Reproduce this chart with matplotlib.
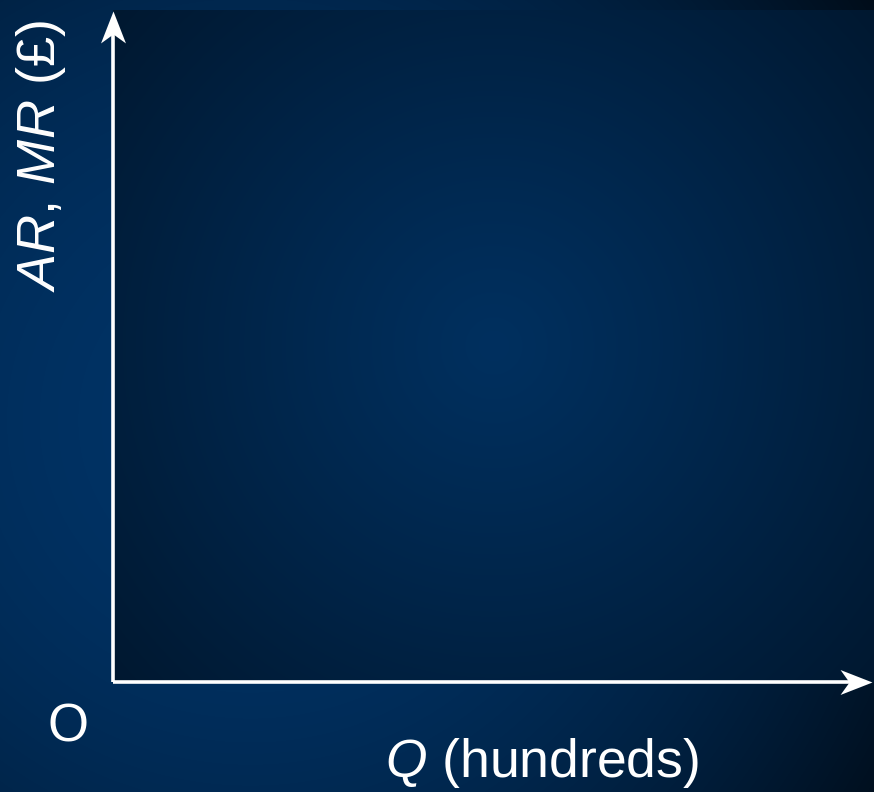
import matplotlib.pyplot as plt
import numpy as np
from matplotlib.path import Path

# chart content (an empty AR/MR diagram)
x_label = "$\\mathit{Q}$ (hundreds)"
y_label = "$\\mathit{AR}$, $\\mathit{MR}$ (£)"
origin_label = "O"

plt.rcParams['font.family'] = ['Liberation Sans', 'DejaVu Sans']
plt.rcParams['mathtext.fontset'] = 'custom'
plt.rcParams['mathtext.rm'] = 'Liberation Sans'
plt.rcParams['mathtext.it'] = 'Liberation Sans:italic'

W, H = 874, 792
fig = plt.figure(figsize=(W / 100, H / 100), dpi=100)

# outer background: radial gradient, bright toward the left middle
bg = fig.add_axes([0, 0, 1, 1])
yy, xx = np.mgrid[0:H, 0:W]
d = np.hypot(xx - 250, yy - 420) / 760.0
f = np.clip(d, 0, 1) ** 2
c0 = np.array([0, 51, 102]) / 255.0
c1 = np.array([0, 12, 24]) / 255.0
img = c0[None, None, :] * (1 - f[..., None]) + c1[None, None, :] * f[..., None]
bg.imshow(img, extent=[0, W, H, 0], aspect='auto')
bg.set_xlim(0, W)
bg.set_ylim(H, 0)
bg.axis('off')

# inner panel
left, right, top, bottom = 113, 874, 10, 682
ax = fig.add_axes([left / W, (H - bottom) / H, (right - left) / W, (bottom - top) / H])
pw, ph = right - left, bottom - top
py, px = np.mgrid[0:ph, 0:pw]
r = np.hypot(px - pw / 2, py - ph / 2) / np.hypot(pw / 2, ph / 2)
g = np.clip(r, 0, 1) ** 1.1
i0 = np.array([0, 48, 95]) / 255.0
i1 = np.array([0, 24, 48]) / 255.0
pimg = i0[None, None, :] * (1 - g[..., None]) + i1[None, None, :] * g[..., None]
ax.imshow(pimg, extent=[0, 1, 0, 1], aspect='auto')
ax.set_xlim(0, 1)
ax.set_ylim(0, 1)
ax.axis('off')

# axis lines with stealth-style heads
xtip = 1 - 2 / pw
ytip = 1 - 1 / ph
ax.plot([0, xtip - 20 / pw], [0, 0], color='white', lw=2.6, clip_on=False,
        solid_capstyle='butt', transform=ax.transAxes)
ax.plot([0, 0], [0, ytip - 20 / ph], color='white', lw=2.6, clip_on=False,
        solid_capstyle='butt', transform=ax.transAxes)
head_r = Path([(0, 0), (-32, 12.5), (-23, 0), (-32, -12.5), (0, 0)],
              [Path.MOVETO, Path.LINETO, Path.LINETO, Path.LINETO, Path.CLOSEPOLY])
head_u = Path([(0, 0), (12.5, -32), (0, -23), (-12.5, -32), (0, 0)],
              [Path.MOVETO, Path.LINETO, Path.LINETO, Path.LINETO, Path.CLOSEPOLY])
ax.plot([xtip], [0], marker=head_r, markersize=46, color='white', mew=0,
        clip_on=False, transform=ax.transAxes)
ax.plot([0], [ytip], marker=head_u, markersize=46, color='white', mew=0,
        clip_on=False, transform=ax.transAxes)

fig.text(55 / W, 1 - 156 / H, y_label, rotation=90, rotation_mode='anchor',
         ha='center', va='baseline', fontsize=39, color='white')
fig.text(542 / W, (H - 777) / H, x_label, ha='center',
         va='baseline', fontsize=38.5, color='white')
fig.text(68 / W, 1 - 728 / H, origin_label, ha='center', va='center',
         fontsize=38, color='white')

fig.savefig('out.png', dpi=100)
